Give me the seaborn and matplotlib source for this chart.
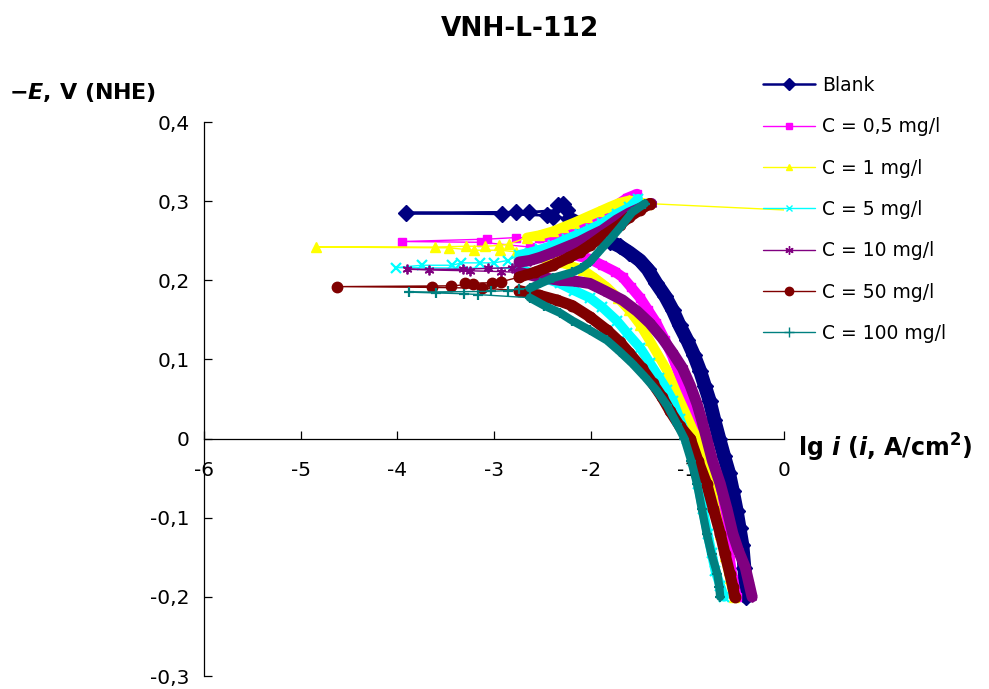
import matplotlib
matplotlib.use("Agg")
import matplotlib.pyplot as plt
from matplotlib.lines import Line2D
import pandas as pd
import seaborn as sns

# ---------------- polarization data: (lg i, -E) in scan order ----------------
# each curve: upper branch -> points around the corrosion potential -> lower branch
blank_upper = []
blank_ecorr = [(-2.29, 0.297), (-2.34, 0.295), (-2.25, 0.289), (-2.64, 0.286), (-2.77, 0.286),
               (-3.91, 0.285), (-2.92, 0.284), (-2.45, 0.282), (-2.39, 0.280)]
blank_lower = [(-2.22, 0.278), (-2.11, 0.271), (-2.01, 0.263), (-1.91, 0.256), (-1.80, 0.249),
               (-1.70, 0.243), (-1.60, 0.235), (-1.49, 0.225), (-1.41, 0.214), (-1.32, 0.196),
               (-1.23, 0.180), (-1.15, 0.162), (-1.08, 0.143), (-1.00, 0.124), (-0.93, 0.105),
               (-0.87, 0.086), (-0.82, 0.067), (-0.77, 0.048), (-0.72, 0.023), (-0.67, 0.000),
               (-0.62, -0.022), (-0.57, -0.043), (-0.53, -0.066), (-0.49, -0.091),
               (-0.46, -0.113), (-0.43, -0.135), (-0.41, -0.163), (-0.40, -0.184),
               (-0.39, -0.200)]

c05_upper = [(-1.52, 0.309), (-1.62, 0.304), (-1.73, 0.295), (-1.88, 0.286), (-2.04, 0.276),
             (-2.22, 0.267), (-2.39, 0.257), (-2.53, 0.253)]
c05_ecorr = [(-2.77, 0.254), (-3.07, 0.252), (-3.95, 0.249), (-3.13, 0.248), (-2.63, 0.242),
             (-2.46, 0.240)]
c05_lower = [(-2.32, 0.237), (-2.17, 0.232), (-2.01, 0.227), (-1.88, 0.219), (-1.75, 0.211),
             (-1.67, 0.204), (-1.58, 0.191), (-1.49, 0.178), (-1.41, 0.163), (-1.32, 0.146),
             (-1.23, 0.124), (-1.15, 0.103), (-1.07, 0.076), (-1.00, 0.048), (-0.92, 0.023),
             (-0.85, 0.000), (-0.79, -0.029), (-0.74, -0.057), (-0.68, -0.082),
             (-0.64, -0.104), (-0.60, -0.129), (-0.56, -0.154), (-0.53, -0.177),
             (-0.49, -0.200)]

c1_first = [(0.50, 0.286)]
c1_upper = [(-1.42, 0.297), (-1.60, 0.301), (-1.70, 0.298), (-1.80, 0.293), (-1.91, 0.287),
            (-2.04, 0.280), (-2.17, 0.273), (-2.29, 0.267), (-2.39, 0.262), (-2.53, 0.257),
            (-2.66, 0.254)]
c1_ecorr = [(-2.84, 0.246), (-2.95, 0.244), (-3.09, 0.243), (-3.29, 0.243), (-3.61, 0.242),
            (-4.84, 0.242), (-3.47, 0.241), (-3.21, 0.238), (-2.94, 0.238), (-2.77, 0.236)]
c1_lower = [(-2.63, 0.235), (-2.48, 0.230), (-2.32, 0.223), (-2.20, 0.218), (-2.08, 0.213),
            (-1.96, 0.203), (-1.83, 0.191), (-1.72, 0.178), (-1.60, 0.162), (-1.49, 0.144),
            (-1.39, 0.124), (-1.30, 0.105), (-1.21, 0.086), (-1.11, 0.057), (-1.00, 0.027),
            (-0.94, 0.010), (-0.89, 0.000), (-0.84, -0.025), (-0.80, -0.041),
            (-0.75, -0.066), (-0.71, -0.091), (-0.66, -0.120), (-0.61, -0.148),
            (-0.56, -0.176), (-0.52, -0.200)]

c5_upper = [(-1.51, 0.303), (-1.60, 0.292), (-1.73, 0.284), (-1.88, 0.272), (-2.00, 0.265),
            (-2.11, 0.259), (-2.25, 0.252), (-2.39, 0.244), (-2.52, 0.239), (-2.63, 0.235),
            (-2.74, 0.232)]
c5_ecorr = [(-2.86, 0.225), (-3.00, 0.222), (-3.15, 0.222), (-3.34, 0.222), (-3.43, 0.219),
            (-3.75, 0.219), (-4.01, 0.216)]
c5_lower = [(-2.74, 0.215), (-2.53, 0.205), (-2.32, 0.196), (-2.17, 0.187), (-2.01, 0.178),
            (-1.88, 0.166), (-1.73, 0.149), (-1.62, 0.133), (-1.49, 0.115), (-1.39, 0.096),
            (-1.29, 0.077), (-1.21, 0.061), (-1.15, 0.048), (-1.08, 0.025), (-1.00, 0.000),
            (-0.94, -0.028), (-0.89, -0.057), (-0.84, -0.089), (-0.79, -0.120),
            (-0.75, -0.144), (-0.71, -0.167), (-0.66, -0.186), (-0.62, -0.200)]

c10_upper = [(-1.37, 0.297), (-1.49, 0.291), (-1.60, 0.285), (-1.73, 0.276), (-1.88, 0.263),
             (-2.00, 0.256), (-2.11, 0.249), (-2.25, 0.242), (-2.39, 0.235), (-2.52, 0.229),
             (-2.63, 0.225), (-2.74, 0.223)]
c10_ecorr = [(-2.81, 0.216), (-3.06, 0.215), (-3.32, 0.214), (-3.90, 0.214), (-3.67, 0.213),
             (-3.25, 0.212), (-2.93, 0.211)]
c10_lower = [(-2.74, 0.210), (-2.53, 0.204), (-2.32, 0.200), (-2.17, 0.199), (-2.01, 0.196),
             (-1.86, 0.187), (-1.67, 0.175), (-1.52, 0.161), (-1.39, 0.146), (-1.26, 0.127),
             (-1.15, 0.108), (-1.05, 0.089), (-0.97, 0.067), (-0.90, 0.044), (-0.85, 0.023),
             (-0.80, 0.000), (-0.74, -0.028), (-0.66, -0.057), (-0.59, -0.089),
             (-0.53, -0.120), (-0.47, -0.142), (-0.40, -0.163), (-0.36, -0.184),
             (-0.33, -0.200)]

c50_upper = [(-1.39, 0.297), (-1.49, 0.289), (-1.60, 0.280), (-1.70, 0.270), (-1.86, 0.257),
             (-2.01, 0.244), (-2.11, 0.236), (-2.22, 0.229), (-2.39, 0.219), (-2.58, 0.210),
             (-2.74, 0.204)]
c50_ecorr = [(-2.93, 0.198), (-3.02, 0.197), (-3.30, 0.196), (-3.22, 0.195), (-3.44, 0.193),
             (-4.62, 0.192), (-3.64, 0.191), (-3.12, 0.190)]
c50_lower = [(-2.74, 0.187), (-2.53, 0.181), (-2.35, 0.175), (-2.19, 0.168), (-2.01, 0.154),
             (-1.83, 0.137), (-1.70, 0.122), (-1.60, 0.108), (-1.47, 0.089), (-1.36, 0.070),
             (-1.26, 0.052), (-1.18, 0.035), (-1.08, 0.016), (-0.97, 0.000),
             (-0.89, -0.028), (-0.80, -0.057), (-0.73, -0.089), (-0.66, -0.120),
             (-0.61, -0.146), (-0.56, -0.171), (-0.53, -0.187), (-0.51, -0.200)]

c100_upper = [(-1.44, 0.297), (-1.57, 0.286), (-1.70, 0.266), (-1.79, 0.253), (-1.88, 0.241),
              (-2.01, 0.223), (-2.10, 0.215), (-2.19, 0.210), (-2.39, 0.203), (-2.52, 0.196),
              (-2.63, 0.190)]
c100_ecorr = [(-2.74, 0.189), (-2.86, 0.187), (-3.03, 0.186), (-3.88, 0.185), (-3.60, 0.184),
              (-3.31, 0.183), (-3.17, 0.182)]
c100_lower = [(-2.63, 0.178), (-2.48, 0.168), (-2.32, 0.159), (-2.19, 0.149), (-2.01, 0.137),
              (-1.83, 0.124), (-1.70, 0.110), (-1.57, 0.095), (-1.44, 0.078), (-1.32, 0.061),
              (-1.21, 0.042), (-1.11, 0.019), (-1.03, 0.000), (-0.96, -0.028),
              (-0.90, -0.057), (-0.85, -0.089), (-0.80, -0.120), (-0.75, -0.146),
              (-0.69, -0.171), (-0.67, -0.187), (-0.66, -0.200)]

series_labels = ["Blank", "C = 0,5 mg/l", "C = 1 mg/l", "C = 5 mg/l",
                 "C = 10 mg/l", "C = 50 mg/l", "C = 100 mg/l"]
x_ticks = [-6, -5, -4, -3, -2, -1, 0]
x_tick_labels = ["-6", "-5", "-4", "-3", "-2", "-1", "0"]
y_ticks = [0.4, 0.3, 0.2, 0.1, 0.0, -0.1, -0.2, -0.3]
y_tick_labels = ["0,4", "0,3", "0,2", "0,1", "0", "-0,1", "-0,2", "-0,3"]

curves = [
    ([], blank_upper, blank_ecorr, blank_lower),
    ([], c05_upper, c05_ecorr, c05_lower),
    (c1_first, c1_upper, c1_ecorr, c1_lower),
    ([], c5_upper, c5_ecorr, c5_lower),
    ([], c10_upper, c10_ecorr, c10_lower),
    ([], c50_upper, c50_ecorr, c50_lower),
    ([], c100_upper, c100_ecorr, c100_lower),
]

# ---------------- styling ----------------
colors = ["#000080", "#FF00FF", "#FFFF00", "#00FFFF", "#800080", "#800000", "#008080"]
markers = ["D", "s", "^", "x", (6, 2, 0), "o", "+"]
marker_sizes = [8.0, 5.5, 6.5, 6.5, 7.0, 7.5, 7.0]
marker_edge = [1.0, 1.0, 1.0, 1.6, 1.3, 1.0, 1.6]
thin_widths = [2.0, 1.0, 1.0, 1.0, 1.0, 1.0, 1.0]
band_widths = [10.0, 7.5, 7.0, 7.0, 8.0, 8.0, 6.0]
legend_marker_sizes = [6.0, 4.5, 4.5, 5.0, 6.0, 6.0, 7.0]

sns.set_theme(style="ticks")
plt.rcParams["font.family"] = ["DejaVu Sans"]
plt.rcParams["mathtext.fontset"] = "dejavusans"
for key in ("text.color", "axes.labelcolor", "xtick.color", "ytick.color", "axes.edgecolor"):
    plt.rcParams[key] = "black"

fig = plt.figure(figsize=(9.89, 6.89), dpi=100)
ax = fig.add_axes([204 / 989, 1 - 676 / 689, 580 / 989, 554 / 689])

for i, (first, upper, ecorr, lower) in enumerate(curves):
    c = colors[i]
    z = 3 + i
    for band in (upper, lower):
        if len(band) >= 2:
            bdf = pd.DataFrame(band, columns=["lgi", "E"])
            sns.lineplot(data=bdf, x="lgi", y="E", sort=False, estimator=None, ax=ax,
                         color=c, linewidth=band_widths[i], solid_capstyle="round",
                         solid_joinstyle="round", zorder=z, legend=False)
    path = pd.DataFrame(first + upper + ecorr + lower, columns=["lgi", "E"])
    sns.lineplot(data=path, x="lgi", y="E", sort=False, estimator=None, ax=ax,
                 color=c, linewidth=thin_widths[i], marker=markers[i],
                 markersize=marker_sizes[i], markeredgecolor=c, markerfacecolor=c,
                 markeredgewidth=marker_edge[i], zorder=z, legend=False)

ax.set_xlim(-6, 0)
ax.set_ylim(-0.3, 0.4)
ax.set_xlabel("")
ax.set_ylabel("")
ax.set_xticks(x_ticks)
ax.set_xticklabels(x_tick_labels)
ax.set_yticks(y_ticks)
ax.set_yticklabels(y_tick_labels)

for side in ("top", "right"):
    ax.spines[side].set_visible(False)
ax.spines["bottom"].set_position(("data", 0))
for side in ("left", "bottom"):
    ax.spines[side].set_color("black")
    ax.spines[side].set_linewidth(0.9)
ax.tick_params(axis="x", direction="in", length=6, width=0.9, color="black",
               pad=16, labelsize=14.5, labelcolor="black")
ax.tick_params(axis="y", direction="in", length=6, width=0.9, color="black",
               pad=10.5, labelsize=14.5, labelcolor="black")

# legend
handles = [Line2D([], [], color=colors[i], lw=(1.8 if i == 0 else 1.0), marker=markers[i],
                  markersize=legend_marker_sizes[i], markeredgecolor=colors[i],
                  markerfacecolor=colors[i], markeredgewidth=1.0)
           for i in range(len(series_labels))]
ax.legend(handles, series_labels, loc="upper left",
          bbox_to_anchor=(763 / 989, 1 - 76 / 689), bbox_transform=fig.transFigure,
          frameon=False, borderpad=0, borderaxespad=0, fontsize=13.5,
          handlelength=2.77, handletextpad=0.37, labelspacing=1.19, labelcolor="black")

# titles and axis captions
fig.text(0.526, 1 - 29 / 689, "VNH-L-112", ha="center", va="center",
         fontsize=19, fontweight="bold", color="black")
fig.text(9 / 989, 1 - 92 / 689, r"−$\mathbfit{E}$, V (NHE)", ha="left", va="center",
         fontsize=16, fontweight="bold", color="black")
fig.text(798 / 989, 1 - 448 / 689, r"lg $\mathbfit{i}$ ($\mathbfit{i}$, A/cm$^{\mathbf{2}}$)",
         ha="left", va="center", fontsize=17, fontweight="bold", color="black")

fig.savefig("out.png", dpi=100, facecolor="white")
